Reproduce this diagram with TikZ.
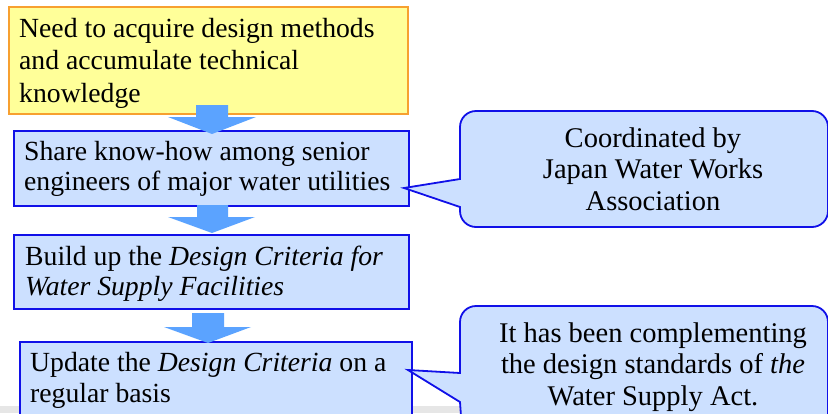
\documentclass[tikz,border=0pt]{standalone}
\usepackage{fontspec}
\setmainfont{Liberation Serif}
\usetikzlibrary{calc}
\definecolor{boxfill}{HTML}{CCE0FF}
\definecolor{boxline}{HTML}{1010E8}
\definecolor{yfill}{HTML}{FFFF99}
\definecolor{yline}{HTML}{F7A030}
\definecolor{arrowc}{HTML}{5BA3FF}
\definecolor{strip}{HTML}{E6E6E6}
\tikzset{
  x=1pt, y=-1pt,
  stepbox/.style={draw=boxline, fill=boxfill, line width=1.8pt, anchor=north west, inner sep=0pt},
  needbox/.style={stepbox, draw=yline, fill=yfill},
  boxtext/.style={anchor=base west, align=left, inner sep=0pt, font=\fontsize{27.7}{#1}\selectfont},
  boxtext/.default=31,
  calltext/.style={anchor=base, align=center, font=\fontsize{28.5}{31.5}\selectfont, inner sep=0pt},
  callout/.style={draw=boxline, fill=boxfill, line width=1.8pt},
  blockarrow/.style={fill=arrowc}
}
\begin{document}
\begin{tikzpicture}
\useasboundingbox (0,0) rectangle (828,413);
\fill[strip] (0,406) rectangle (828,413);

\node[needbox, minimum width=399pt, minimum height=107pt] (b1) at (8,6) {};
\node[stepbox, minimum width=395pt, minimum height=75pt] (b2) at (13,130) {};
\node[stepbox, minimum width=395pt, minimum height=74pt] (b3) at (13,234) {};
\node[stepbox, minimum width=392pt, minimum height=80pt] (b4) at (19,341) {};

\node[boxtext=32.5] (t1a) at (19,102) {Need to acquire design methods\\and accumulate technical\\knowledge};
\node[boxtext=30] (t2a) at (24,190) {Share know-how among senior\\engineers of major water utilities};
\node[boxtext=30] (t3a) at (25,295) {Build up the \textit{Design Criteria for}\\\textit{Water Supply Facilities}};
\node[boxtext=31] (t4a) at (30,402) {Update the \textit{Design Criteria} on a\\regular basis};

% callouts
\coordinate (p1) at (404,188);
\coordinate (p2) at (408,370);
\path[callout] (p1) -- (460,207) [rounded corners=16pt] -- (460,227) -- (828,227) -- (828,111) -- (460,111) [sharp corners] -- (460,179) -- cycle;
\path[callout] (p2) -- (460,402) [rounded corners=16pt] -- (462,430) -- (828,430) -- (828,306) -- (460,306) [sharp corners] -- (460,373) -- cycle;
\node[calltext] (c1) at (653,210) {Coordinated by\\Japan Water Works\\Association};
\node[calltext] (c2) at (653,405) {It has been complementing\\the design standards of \textit{the}\\Water Supply Act.};

% block arrows
\fill[blockarrow] (196,105) -- (228,105) -- (228,117) -- (256,117) -- (212,134) -- (168,117) -- (196,117) -- cycle;
\fill[blockarrow] (197,205) -- (228,205) -- (228,217) -- (255,217) -- (212,233) -- (168,217) -- (197,217) -- cycle;
\fill[blockarrow] (192,313) -- (224,313) -- (224,327) -- (251,327) -- (208,343) -- (164,327) -- (192,327) -- cycle;
\end{tikzpicture}
\end{document}
